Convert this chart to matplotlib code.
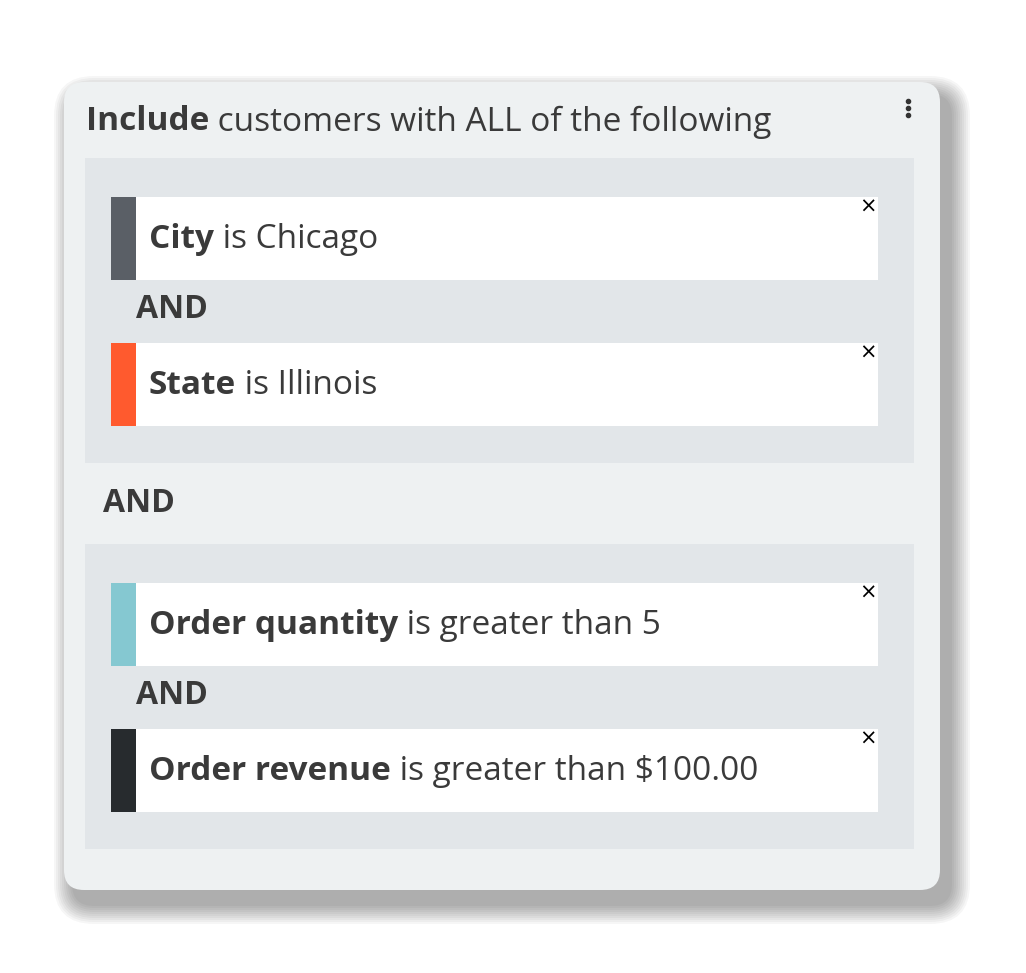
import matplotlib.pyplot as plt
from matplotlib.patches import FancyBboxPatch, Rectangle

# Data
header_bold = "Include"
header_rest = " customers with ALL of the following"
group1_fields = ["City", "State"]
group1_rules = [" is Chicago", " is Illinois"]
group1_colors = ["#5a5f66", "#ff5a2e"]
group2_fields = ["Order quantity", "Order revenue"]
group2_rules = [" is greater than 5", " is greater than $100.00"]
group2_colors = ["#85c8d1", "#272b2e"]
joiner = "AND"

W, H = 1026, 973
fig = plt.figure(figsize=(W / 100, H / 100), dpi=100)
ax = fig.add_axes([0, 0, 1, 1])
ax.set_xlim(0, W)
ax.set_ylim(H, 0)
ax.axis('off')
FONT = "Open Sans"
TXT = "#3a3a3a"

# soft shadow + card
for i in range(10):
    g = 20 - i * 2
    ax.add_patch(FancyBboxPatch((74 - g, 96 - g), 876 + 2 * g, 808 + 2 * g,
                                boxstyle="round,pad=0,rounding_size=%d" % (20 + g),
                                fc="black", ec="none", alpha=0.035))
ax.add_patch(FancyBboxPatch((64, 82), 876, 808, boxstyle="round,pad=0,rounding_size=20",
                            fc="#eef1f2", ec="none"))

fig.canvas.draw()
renderer = fig.canvas.get_renderer()


def two_part(x, y, bold, rest, size):
    t = ax.text(x, y, bold, fontsize=size, fontweight='bold', family=FONT,
                color=TXT, va='center', ha='left')
    bb = t.get_window_extent(renderer)
    x2 = ax.transData.inverted().transform((bb.x1, bb.y0))[0]
    ax.text(x2, y, rest, fontsize=size, family=FONT, color=TXT, va='center', ha='left')


two_part(86, 122, header_bold, header_rest, 24)
for dy in (-7, 0, 7):
    ax.plot(908, 108 + dy, 'o', color="#333333", ms=3)


def group(top, fields, rules, colors):
    ax.add_patch(Rectangle((85, top), 829, 305, fc="#e2e6e9", ec="none"))
    for i, (f, r, c) in enumerate(zip(fields, rules, colors)):
        ry = top + 39 + i * 146
        ax.add_patch(Rectangle((111, ry), 767, 83, fc="white", ec="none"))
        ax.add_patch(Rectangle((111, ry), 25, 83, fc=c, ec="none"))
        two_part(149, ry + 42, f, r, 24)
        ax.text(868, ry + 10, "×", fontsize=15, color="black", ha='center', va='center',
                family="DejaVu Sans")
        if i == 0:
            ax.text(136, ry + 113, joiner, fontsize=23, fontweight='bold', family=FONT,
                    color=TXT, va='center', ha='left')


group(158, group1_fields, group1_rules, group1_colors)
ax.text(103, 503, joiner, fontsize=23, fontweight='bold', family=FONT,
        color=TXT, va='center', ha='left')
group(544, group2_fields, group2_rules, group2_colors)

fig.savefig("out.png", dpi=100, facecolor="white")
